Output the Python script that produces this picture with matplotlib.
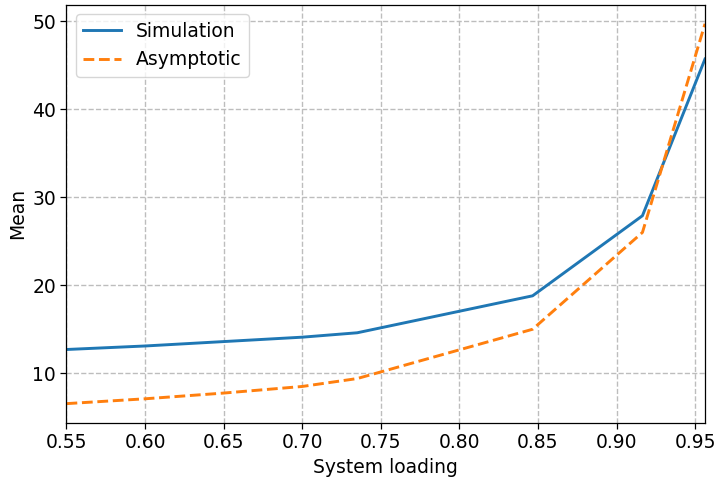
import matplotlib
matplotlib.use("Agg")
import matplotlib.pyplot as plt

# system loading values and the mean response per model
loading = [0.55, 0.60, 0.65, 0.70, 0.735, 0.8466, 0.9165, 0.9563]
sim_mean = [12.7, 13.1, 13.6, 14.1, 14.6, 18.8, 27.9, 45.7]
asym_mean = [6.55, 7.1, 7.75, 8.5, 9.4, 15.0, 26.0, 49.7]

plt.rcParams['font.size'] = 13.5
plt.rcParams['axes.linewidth'] = 0.9
plt.rcParams['xtick.major.size'] = 4
plt.rcParams['ytick.major.size'] = 4
plt.rcParams['xtick.major.width'] = 0.9
plt.rcParams['ytick.major.width'] = 0.9

fig = plt.figure(figsize=(7.15, 4.83), dpi=100)
ax = fig.add_axes([0.093, 0.125, 0.893, 0.865])

ax.plot(loading, sim_mean, '-', color='tab:blue', linewidth=2.1, label='Simulation')
ax.plot(loading, asym_mean, '--', color='tab:orange', linewidth=2.1, label='Asymptotic')

ax.set_xlim(loading[0], loading[-1])
ax.set_yticks([10, 20, 30, 40, 50])
ax.set_xlabel('System loading')
ax.set_ylabel('Mean')
ax.grid(True, linestyle='--', color='#bdbdbd', linewidth=1.0)
ax.legend(loc='upper left')

fig.savefig('out.png')
